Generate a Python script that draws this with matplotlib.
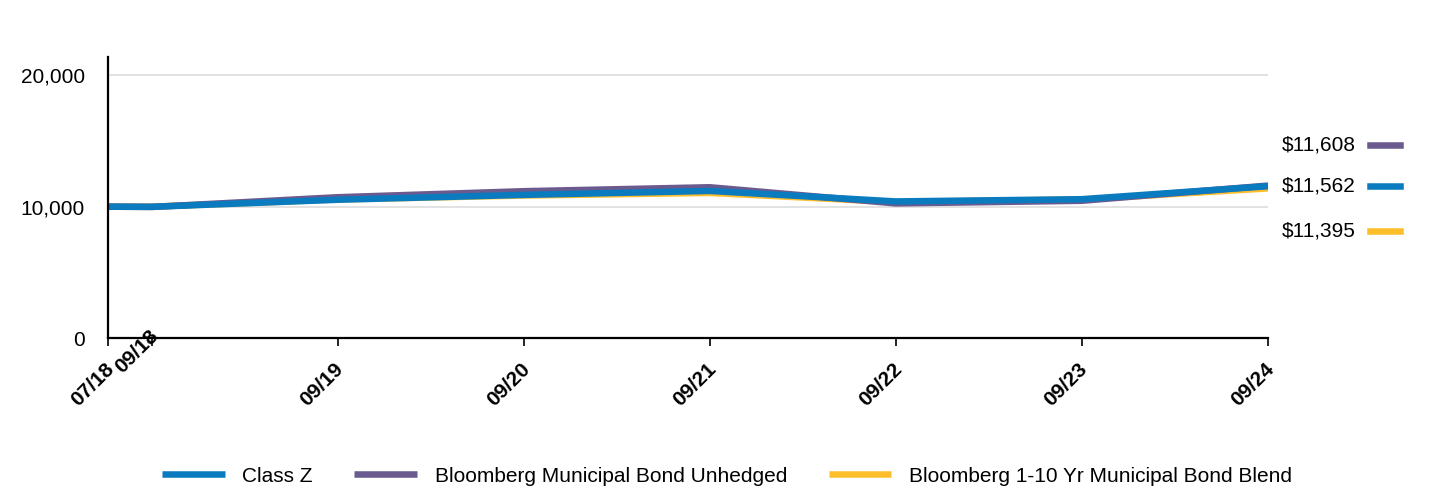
import matplotlib
matplotlib.use("Agg")
import matplotlib.pyplot as plt
import matplotlib.transforms as mtransforms
from matplotlib.lines import Line2D
import pandas as pd

plt.rcParams['font.family'] = ['Liberation Sans', 'DejaVu Sans']

dates = pd.to_datetime(["2018-07-06", "2018-09-30", "2019-09-30", "2020-09-30",
                        "2021-09-30", "2022-09-30", "2023-09-30", "2024-09-30"])
tick_labels = ["07/18", "09/18", "09/19", "09/20", "09/21", "09/22", "09/23", "09/24"]

class_z = [10000, 9990, 10530, 10900, 11200, 10400, 10570, 11562]
muni_unhedged = [10000, 9980, 10720, 11180, 11480, 10250, 10450, 11608]
muni_1_10 = [10000, 10000, 10550, 10850, 11050, 10350, 10550, 11395]

names = ["Class Z", "Bloomberg Municipal Bond Unhedged", "Bloomberg 1-10 Yr Municipal Bond Blend"]
colors = {"Class Z": "#0B7BBF", "Bloomberg Municipal Bond Unhedged": "#6B5A8E",
          "Bloomberg 1-10 Yr Municipal Bond Blend": "#FDBE2B"}

FS = 15
fig = plt.figure(figsize=(14.4, 4.92), dpi=100)
ax = fig.add_axes([108/1440, 1 - 338/492, (1268-108)/1440, (338-57)/492])

lw = 4.7
l3, = ax.plot(dates, muni_1_10, color=colors[names[2]], lw=lw, zorder=2, solid_capstyle='butt')
l2, = ax.plot(dates, muni_unhedged, color=colors[names[1]], lw=lw, zorder=3, solid_capstyle='butt')
l1, = ax.plot(dates, class_z, color=colors[names[0]], lw=lw, zorder=4, solid_capstyle='butt')

ax.set_xlim(dates[0], dates[-1])
ax.set_ylim(0, 21400)
ax.set_yticks([0, 10000, 20000])
ax.set_yticklabels(["0", "10,000", "20,000"], fontsize=FS)
ax.tick_params(axis='y', length=0, pad=16.5)
ax.set_xticks(dates)
ax.set_xticklabels(tick_labels, rotation=45, ha='right', va='center',
                   rotation_mode='anchor', fontsize=FS, fontweight='bold')
ax.tick_params(axis='x', length=6, width=1.2, color='black', pad=14)
for i, lab in enumerate(ax.get_xticklabels()):
    dy = 33 if i == 1 else 0   # the 09/18 label sits higher in the original
    lab.set_transform(lab.get_transform() +
                      mtransforms.ScaledTranslation(3/100, dy/100, fig.dpi_scale_trans))
ax.grid(axis='y', color='#DDDDDD', lw=1.2, zorder=0)
ax.set_axisbelow(True)
for s in ['top', 'right']:
    ax.spines[s].set_visible(False)
for s in ['left', 'bottom']:
    ax.spines[s].set_linewidth(1.6)
    ax.spines[s].set_color('black')
    ax.spines[s].set_zorder(5)

# end-value labels
final = [(muni_unhedged[-1], names[1], 145), (class_z[-1], names[0], 186), (muni_1_10[-1], names[2], 231)]
for val, nm, ypx in final:
    yf = 1 - ypx/492
    fig.text(1356/1440, yf, f"${val:,.0f}", ha='right', va='center', fontsize=FS)
    fig.add_artist(Line2D([1370/1440, 1400/1440], [yf, yf], color=colors[nm], lw=4.7,
                          transform=fig.transFigure))

fig.legend([l1, l2, l3], names, loc='center', bbox_to_anchor=(727/1440, 1 - 476/492),
           ncol=3, frameon=False, fontsize=FS, handlelength=3.0, columnspacing=2.0,
           handletextpad=0.85)

fig.savefig("out.png", dpi=100)
